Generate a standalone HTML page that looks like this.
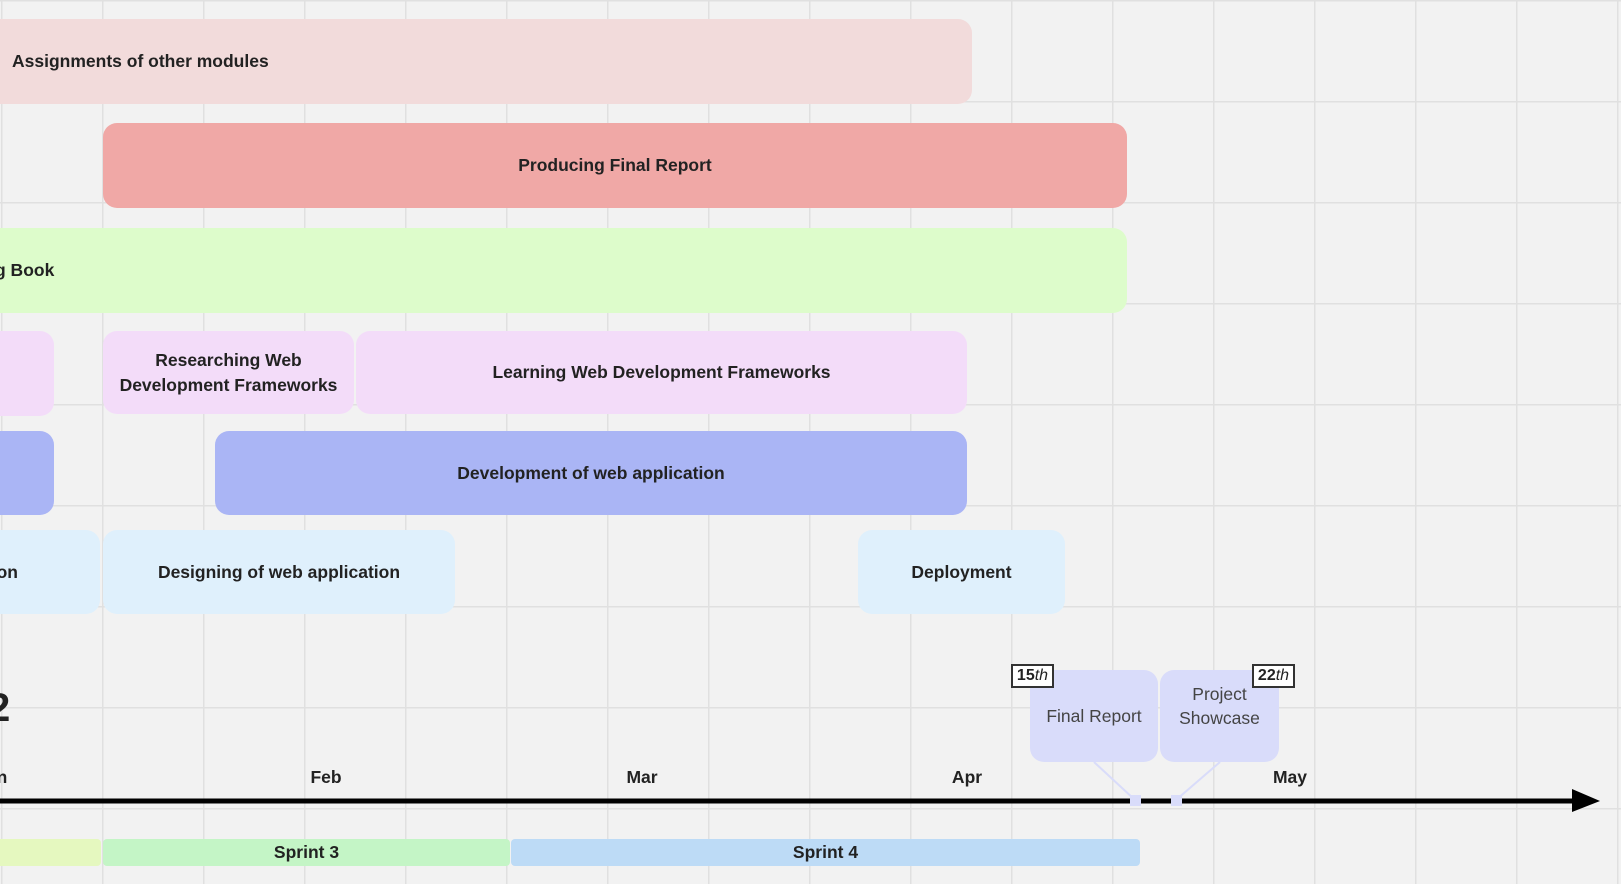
<!DOCTYPE html>
<html><head><meta charset="utf-8"><style>
body{margin:0;width:1621px;height:884px;overflow:hidden;background:#f2f2f2;font-family:"Liberation Sans","DejaVu Sans",sans-serif;position:relative;
background-image:linear-gradient(#e0e0e0 1.5px,transparent 1.5px),linear-gradient(90deg,#e0e0e0 1.5px,transparent 1.5px);background-size:101px 101px;background-position:1px 0px;}
.b{position:absolute;display:flex;align-items:center;justify-content:center;text-align:center;font-weight:bold;font-size:17.5px;color:#222;border-radius:14px;box-sizing:border-box;line-height:1.4}
.m{position:absolute;top:767px;font-weight:bold;font-size:17.5px;color:#222;transform:translateX(-50%)}
.s{position:absolute;top:839px;height:27px;display:flex;align-items:center;justify-content:center;font-weight:bold;font-size:17.5px;color:#222;border-radius:4px}
.t{position:absolute;top:664px;height:24px;width:43px;border:2px solid #333;background:#fff;font-size:16px;display:flex;align-items:center;justify-content:center;box-sizing:border-box;color:#222}
</style></head><body>
<div class="b" style="left:-20px;top:19px;width:992px;height:85px;background:#f2dbdb;justify-content:flex-start;padding-left:32px">Assignments of other modules</div>
<div class="b" style="left:103px;top:123px;width:1024px;height:85px;background:#f0a8a6">Producing Final Report</div>
<div class="b" style="left:-20px;top:228px;width:1147px;height:85px;background:#ddfccb;justify-content:flex-start;padding-left:15px">g Book</div>
<div class="b" style="left:-20px;top:331px;width:74px;height:85px;background:#f3dcf9"></div>
<div class="b" style="left:103px;top:331px;width:251px;height:83px;background:#f3dcf9">Researching Web<br>Development Frameworks</div>
<div class="b" style="left:356px;top:331px;width:611px;height:83px;background:#f3dcf9">Learning Web Development Frameworks</div>
<div class="b" style="left:-20px;top:431px;width:74px;height:84px;background:#aab5f5"></div>
<div class="b" style="left:215px;top:431px;width:752px;height:84px;background:#aab5f5">Development of web application</div>
<div class="b" style="left:-40px;top:530px;width:140px;height:84px;background:#dff0fc;justify-content:flex-end;padding-right:82px">on</div>
<div class="b" style="left:103px;top:530px;width:352px;height:84px;background:#dff0fc">Designing of web application</div>
<div class="b" style="left:858px;top:530px;width:207px;height:84px;background:#dff0fc">Deployment</div>
<div style="position:absolute;left:-12px;top:686px;font-weight:bold;font-size:40px;color:#222">2</div>
<div class="m" style="left:2px">n</div>
<div class="m" style="left:326px">Feb</div>
<div class="m" style="left:642px">Mar</div>
<div class="m" style="left:967px">Apr</div>
<div class="m" style="left:1290px">May</div>
<svg style="position:absolute;left:0;top:0" width="1621" height="884">
<line x1="0" y1="801" x2="1580" y2="801" stroke="#000" stroke-width="5"/>
<polygon points="1572,789 1600,801 1572,812" fill="#000"/>
<line x1="1094" y1="762" x2="1135" y2="800" stroke="#d9dcfa" stroke-width="2"/>
<line x1="1220" y1="762" x2="1176" y2="800" stroke="#d9dcfa" stroke-width="2"/>
<rect x="1130" y="795" width="11" height="11" fill="#d9dcfa"/>
<rect x="1171" y="795" width="11" height="11" fill="#d9dcfa"/>
</svg>
<div class="b" style="left:1030px;top:670px;width:128px;height:92px;background:#d9dcfa;font-weight:normal;color:#444;font-size:17.5px">Final Report</div>
<div class="b" style="left:1160px;top:670px;width:119px;height:92px;background:#d9dcfa;font-weight:normal;color:#444;font-size:17.5px;padding-bottom:20px">Project<br>Showcase</div>
<div class="t" style="left:1011px"><b>15</b><i>th</i></div>
<div class="t" style="left:1252px"><b>22</b><i>th</i></div>
<div class="s" style="left:-10px;width:111px;background:#e5f8bf"></div>
<div class="s" style="left:103px;width:407px;background:#c4f5c6">Sprint 3</div>
<div class="s" style="left:511px;width:629px;background:#bddbf6">Sprint 4</div>
</body></html>
